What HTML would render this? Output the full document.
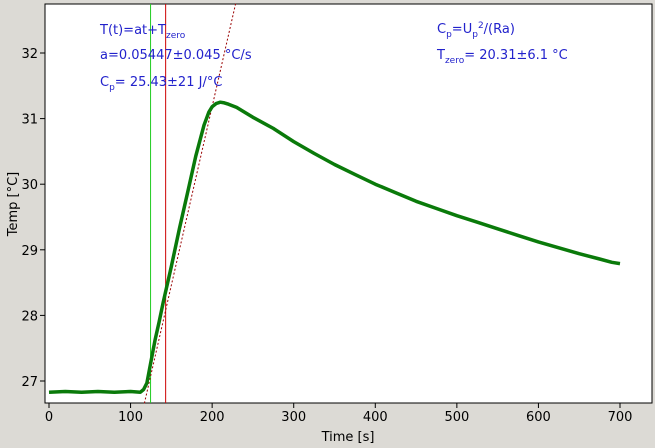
<!DOCTYPE html>
<html><head><meta charset="utf-8"><style>
body{margin:0;background:#dcdad5;}
svg{display:block;font-family:"DejaVu Sans","Liberation Sans",sans-serif;}
</style></head><body>
<svg id="chart" width="655" height="448" viewBox="0 0 655 448">
<rect x="0" y="0" width="655" height="448" fill="#dcdad5"/>
<rect x="45" y="4" width="607" height="399" fill="#fff" stroke="#000" stroke-width="1"/>
<g id="ticks"></g>
<g id="marks"></g>
<text x="348" y="441" font-size="13" text-anchor="middle">Time [s]</text>
<text transform="translate(17,204) rotate(-90)" font-size="13" text-anchor="middle">Temp [°C]</text>
<g fill="#2222cc" font-size="13">
<text x="100" y="34">T(t)=at+T<tspan font-size="9" dy="4">zero</tspan></text>
<text x="100" y="59">a=0.05447±0.045 °C/s</text>
<text x="100" y="86">C<tspan font-size="9" dy="4">p</tspan><tspan dy="-4">= 25.43±21 J/°C</tspan></text>
<text x="437" y="33">C<tspan font-size="9" dy="4">p</tspan><tspan dy="-4">=U</tspan><tspan font-size="9" dy="4">p</tspan><tspan font-size="9" dy="-9">2</tspan><tspan dy="5">/(Ra)</tspan></text>
<text x="437" y="59">T<tspan font-size="9" dy="4">zero</tspan><tspan dy="-4">= 20.31±6.1 °C</tspan></text>
</g>
</svg>
<script>
const xTicks=[0,100,200,300,400,500,600,700];
const yTicks=[27,28,29,30,31,32];
const times=[0,20,40,60,80,100,112,116,120,125,130,135,140,150,160,170,180,190,196,200,205,210,215,220,230,250,275,300,325,350,375,400,425,450,475,500,525,550,575,600,625,650,675,690,700];
const temps=[26.83,26.84,26.83,26.84,26.83,26.84,26.83,26.87,26.97,27.3,27.62,27.9,28.2,28.75,29.33,29.88,30.43,30.9,31.1,31.18,31.23,31.25,31.24,31.22,31.17,31.02,30.85,30.65,30.47,30.3,30.15,30.0,29.87,29.74,29.63,29.52,29.42,29.32,29.22,29.12,29.03,28.94,28.86,28.81,28.79];
const greenMarker=124.5, redMarker=143;
const fitSlope=0.05447, fitIntercept=20.29;
const xMin=0,xMax=700,yRef=27;
const X=t=>49+(t-xMin)*(620-49)/(xMax-xMin);
const Y=v=>381-(v-yRef)*65.6;
const NS='http://www.w3.org/2000/svg';
const tg=document.getElementById('ticks'), mg=document.getElementById('marks');
function mk(tag,attrs,parent){const e=document.createElementNS(NS,tag);for(const k in attrs)e.setAttribute(k,attrs[k]);parent.appendChild(e);return e;}
xTicks.forEach(t=>{
 const l=mk('line',{x1:X(t),x2:X(t),y1:403,y2:408,stroke:'#000'},tg);
 
 
 const tx=mk('text',{x:X(t),y:421,'font-size':13,'text-anchor':'middle'},tg);tx.textContent=t;
 
 
});
yTicks.forEach(v=>{
 const l=mk('line',{x1:40,x2:45,y1:Y(v),y2:Y(v),stroke:'#000'},tg);
 
 
 const tx=mk('text',{x:38,y:Y(v)+5,'font-size':13,'text-anchor':'end'},tg);tx.textContent=v;
 
 
});
const gl=mk('line',{x1:X(greenMarker),x2:X(greenMarker),y1:4,y2:403,stroke:'#22cc22','stroke-width':1},mg);


const rl=mk('line',{x1:X(redMarker),x2:X(redMarker),y1:4,y2:403,stroke:'#cc0000','stroke-width':1},mg);


// fit line clipped to plot
const vLo=26.66, vHi=32.75;
const tLo=(vLo-fitIntercept)/fitSlope, tHi=(vHi-fitIntercept)/fitSlope;
const fl=mk('line',{x1:X(tLo),y1:Y(vLo),x2:X(tHi),y2:Y(vHi),stroke:'#990000','stroke-width':1,'stroke-dasharray':'2,2'},mg);


const d=times.map((t,i)=>(i?'L':'M')+X(t).toFixed(1)+','+Y(temps[i]).toFixed(1)).join('');
const p=mk('path',{d:d,fill:'none',stroke:'#0a7a0a','stroke-width':3.5,'stroke-linejoin':'round'},mg);


</script>
</body></html>
